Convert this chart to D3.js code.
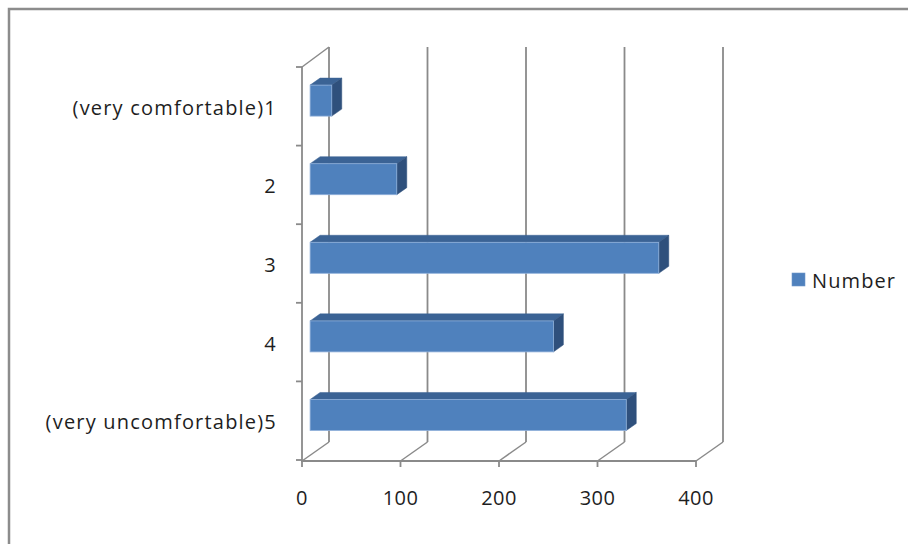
<!DOCTYPE html>
<html>
<head>
<meta charset="utf-8">
<script src="https://cdn.jsdelivr.net/npm/d3@7"></script>
<style>
  html, body { margin: 0; padding: 0; background: #fff; }
  svg { display: block; }
  text { font-family: "Open Sans", Lato, sans-serif; fill: #1e1e1e; }
</style>
</head>
<body>
<svg id="chart" width="908" height="544"></svg>
<script>
// Survey responses: how comfortable respondents felt (1 = very comfortable, 5 = very uncomfortable)
const categories = ["(very comfortable)1", "2", "3", "4", "(very uncomfortable)5"];
const numbers = [22, 88, 354, 247, 321];
const xTicks = [0, 100, 200, 300, 400];
const seriesName = "Number";

const svg = d3.select("#chart");
const axisColor = "#8a8a8a";

// Outer chart frame
svg.append("rect")
  .attr("x", 9).attr("y", 9)
  .attr("width", 1000).attr("height", 1000)
  .attr("fill", "none")
  .attr("stroke", "#8c8c8c")
  .attr("stroke-width", 2.5);

// Front plane scales
const x = d3.scaleLinear().domain([0, 400]).range([302, 696]);
const y = d3.scaleBand().domain(categories).range([67, 460]).paddingInner(0).paddingOuter(0);

// Depth projection of the 3D box: full depth shifts right and up
const depthDX = 27, depthDY = -19;
const proj = (xv, yv, z) => [xv + depthDX * z, yv + depthDY * z];

const floorY = 461;
const g = svg.append("g");

// Back-wall vertical gridlines with floor diagonals
xTicks.forEach(t => {
  const [bx, by] = proj(x(t), floorY, 1);
  g.append("line")
    .attr("x1", bx).attr("y1", by)
    .attr("x2", bx).attr("y2", 47)
    .attr("stroke", axisColor).attr("stroke-width", 1.8);
  g.append("line")
    .attr("x1", x(t)).attr("y1", floorY)
    .attr("x2", bx).attr("y2", by)
    .attr("stroke", axisColor).attr("stroke-width", 1.5);
});

// Left wall top edge
{
  const [tx, ty] = proj(x(0), 67, 1);
  g.append("line")
    .attr("x1", x(0)).attr("y1", 67)
    .attr("x2", tx).attr("y2", 47)
    .attr("stroke", axisColor).attr("stroke-width", 1.5);
}

// Category (vertical) axis line and ticks
g.append("line")
  .attr("x1", x(0)).attr("y1", 67)
  .attr("x2", x(0)).attr("y2", floorY + 1)
  .attr("stroke", axisColor).attr("stroke-width", 1.8);
const bounds = categories.map(c => y(c)).concat([y.range()[1]]);
bounds.forEach(b => {
  g.append("line")
    .attr("x1", x(0) - 6).attr("y1", b)
    .attr("x2", x(0)).attr("y2", b)
    .attr("stroke", axisColor).attr("stroke-width", 1.8);
});

// Value (horizontal) axis line and ticks
g.append("line")
  .attr("x1", x(0) - 1).attr("y1", floorY)
  .attr("x2", x(400)).attr("y2", floorY)
  .attr("stroke", axisColor).attr("stroke-width", 1.8);
xTicks.forEach(t => {
  g.append("line")
    .attr("x1", x(t)).attr("y1", floorY)
    .attr("x2", x(t)).attr("y2", floorY + 6)
    .attr("stroke", axisColor).attr("stroke-width", 1.8);
  g.append("text")
    .attr("x", x(t)).attr("y", 497)
    .attr("text-anchor", "middle")
    .attr("dominant-baseline", "central")
    .style("font-size", "20px")
    .style("letter-spacing", "0.4px")
    .text(t);
});

// Category labels
categories.forEach(c => {
  g.append("text")
    .attr("x", 277).attr("y", y(c) + y.bandwidth() / 2 + 1)
    .attr("text-anchor", "end")
    .attr("dominant-baseline", "central")
    .style("font-size", "20px")
    .style("letter-spacing", "1.2px")
    .text(c);
});

// 3D bars: front face, top face, right side
const zFront = 0.3, zBack = 0.67, halfH = 15.5;
const bars = svg.append("g");
categories.forEach((c, i) => {
  const v = numbers[i];
  const cy = y(c) + y.bandwidth() / 2;
  const [fx0, fy] = proj(x(0), cy, zFront);
  const [fx1] = proj(x(v), cy, zFront);
  const top = fy - halfH, bot = fy + halfH;
  const ddx = depthDX * (zBack - zFront), ddy = depthDY * (zBack - zFront);

  bars.append("path")
    .attr("d", `M${fx0},${top} L${fx0 + ddx},${top + ddy} L${fx1 + ddx},${top + ddy} L${fx1},${top} Z`)
    .attr("fill", "#3b6395").attr("stroke", "#3b6395").attr("stroke-width", 0.5);
  bars.append("path")
    .attr("d", `M${fx1},${top} L${fx1 + ddx},${top + ddy} L${fx1 + ddx},${bot + ddy} L${fx1},${bot} Z`)
    .attr("fill", "#2f507c").attr("stroke", "#2f507c").attr("stroke-width", 0.5);
  bars.append("rect")
    .attr("x", fx0).attr("y", top)
    .attr("width", fx1 - fx0).attr("height", bot - top)
    .attr("fill", "#4f81bd").attr("stroke", "#8fb0da").attr("stroke-width", 0.8);
});

// Legend
const legend = svg.append("g");
legend.append("rect")
  .attr("x", 792).attr("y", 273).attr("width", 13).attr("height", 13)
  .attr("fill", "#4f81bd").attr("stroke", "#6f97c9").attr("stroke-width", 0.6);
legend.append("text")
  .attr("x", 812).attr("y", 280)
  .attr("dominant-baseline", "central")
  .style("font-size", "20px")
  .style("letter-spacing", "1.1px")
  .text(seriesName);
</script>
</body>
</html>
